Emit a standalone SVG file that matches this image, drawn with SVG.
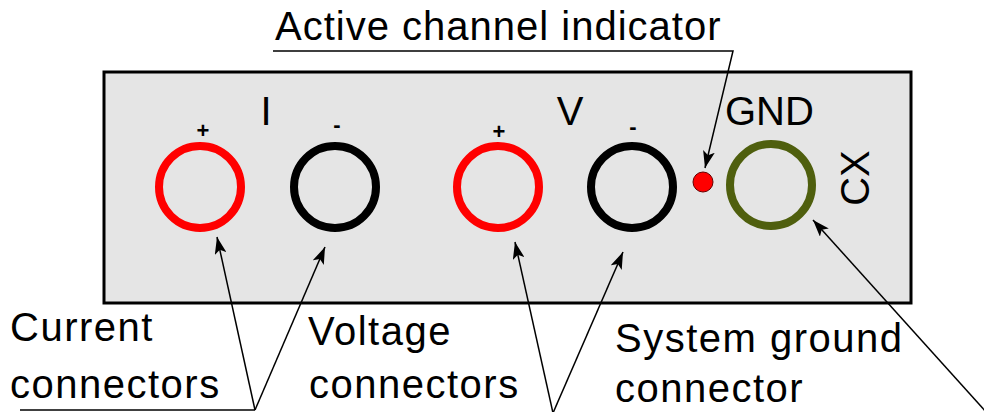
<svg xmlns="http://www.w3.org/2000/svg" width="984" height="412" viewBox="0 0 984 412">
<style>
.lbl{font-family:"Liberation Sans",Arial,sans-serif;font-size:40px;fill:#000;letter-spacing:1.5px}
.sym{font-family:"Liberation Sans",Arial,sans-serif;font-size:22px;font-weight:bold;fill:#000;text-anchor:middle}
.big{font-family:"Liberation Sans",Arial,sans-serif;font-size:40px;fill:#000}
.ring{fill:none;stroke-width:8}
.ln{fill:none;stroke:#000;stroke-width:1.5}
</style>
<defs>
<marker id="ah" markerUnits="userSpaceOnUse" markerWidth="18" markerHeight="12" refX="17" refY="6" orient="auto">
<path d="M0,0 L17,6 L0,12 L4,6 z" fill="#000"/>
</marker>
</defs>
<rect width="984" height="412" fill="#fff"/>
<g id="panel">
<rect x="104" y="72" width="807" height="231" fill="#e5e5e5" stroke="#000" stroke-width="3"/>
</g>
<g id="I-plus">
<circle class="ring" cx="200" cy="187" r="41" stroke="#ff0000"/>
<text class="sym" x="203" y="138">+</text>
</g>
<g id="I-label"><text class="big" x="266" y="125" text-anchor="middle">I</text></g>
<g id="I-minus">
<circle class="ring" cx="335" cy="187" r="41" stroke="#000"/>
<text class="sym" x="337" y="132">-</text>
</g>
<g id="V-plus">
<circle class="ring" cx="498" cy="187" r="41" stroke="#ff0000"/>
<text class="sym" x="499" y="139">+</text>
</g>
<g id="V-label"><text class="big" x="570" y="125" text-anchor="middle">V</text></g>
<g id="V-minus">
<circle class="ring" cx="632" cy="187" r="41" stroke="#000"/>
<text class="sym" x="633" y="134">-</text>
</g>
<g id="indicator">
<circle cx="703" cy="182" r="10" fill="#ff0000" stroke="#600" stroke-width="1"/>
</g>
<g id="GND">
<circle class="ring" cx="771" cy="185" r="41" stroke="#4f5f0e"/>
<text class="big" x="725" y="125">GND</text>
<text class="big" font-size="38" text-anchor="middle" transform="translate(869,178) rotate(-90)">CX</text>
</g>
<g id="labels">
<text class="lbl" x="275" y="40" style="letter-spacing:1px">Active channel indicator</text>
<text class="lbl" x="10" y="341">Current</text>
<text class="lbl" x="10" y="398">connectors</text>
<text class="lbl" x="308" y="345">Voltage</text>
<text class="lbl" x="309" y="398">connectors</text>
<text class="lbl" x="615" y="352">System ground</text>
<text class="lbl" x="615" y="402">connector</text>
</g>
<g id="connectors">
<polyline class="ln" points="273,51 733,51 705,168" marker-end="url(#ah)"/>
<polyline class="ln" points="20,410 255,410"/>
<line class="ln" x1="255" y1="410" x2="217" y2="237" marker-end="url(#ah)"/>
<line class="ln" x1="255" y1="410" x2="325" y2="247" marker-end="url(#ah)"/>
<line class="ln" x1="553" y1="413" x2="515" y2="242" marker-end="url(#ah)"/>
<line class="ln" x1="553" y1="413" x2="623" y2="252" marker-end="url(#ah)"/>
<line class="ln" x1="987" y1="413" x2="813" y2="220" marker-end="url(#ah)"/>
</g>
</svg>
